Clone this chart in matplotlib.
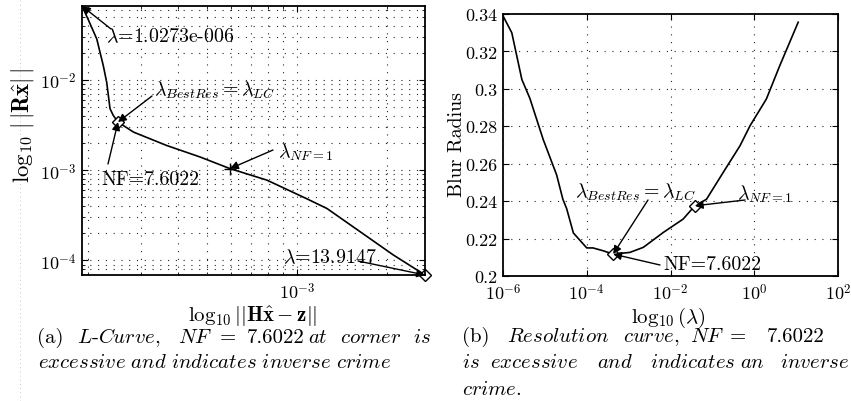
import numpy as np
import matplotlib
matplotlib.use("Agg")
import matplotlib.pyplot as plt
from matplotlib.ticker import FuncFormatter, LogLocator, NullFormatter

plt.rcParams['font.family'] = ['cmr10', 'DejaVu Serif']
plt.rcParams['mathtext.fontset'] = 'cm'
plt.rcParams['axes.formatter.use_mathtext'] = True
plt.rcParams['axes.unicode_minus'] = False

# ---- (a) L-curve data: residual norm vs solution norm ----
res_norm = [1.91e-4, 2.00e-4, 2.14e-4, 2.25e-4, 2.31e-4, 2.37e-4, 2.43e-4, 2.52e-4,
            2.84e-4, 3.66e-4, 4.74e-4, 5.97e-4, 7.93e-4, 1.076e-3, 1.26e-3,
            1.63e-3, 2.10e-3, 2.68e-3]
sol_norm = [6.58e-2, 4.72e-2, 2.84e-2, 1.44e-2, 9.4e-3, 4.8e-3, 4.04e-3, 3.41e-3,
            2.64e-3, 1.88e-3, 1.40e-3, 1.04e-3, 7.76e-4, 4.84e-4, 3.76e-4,
            2.07e-4, 1.15e-4, 6.9e-5]
lc_point = (2.52e-4, 3.41e-3)
nf1_point = (5.97e-4, 1.04e-3)
end_point = (2.68e-3, 6.9e-5)
start_point = (1.91e-4, 6.58e-2)

# ---- (b) resolution curve: lambda vs blur radius ----
lam = [1e-6, 1.62e-6, 2.82e-6, 4.37e-6, 9.1e-6, 1.91e-5, 2.69e-5, 3.31e-5, 4.79e-5,
       1.0e-4, 1.41e-4, 2.45e-4, 4.27e-4, 1.07e-3, 2.24e-3, 6.76e-3, 2.0e-2,
       3.8e-2, 7.24e-2, 0.182, 0.457, 0.794, 1.95, 4.07, 11.2]
blur = [0.339, 0.330, 0.305, 0.295, 0.273, 0.254, 0.241, 0.236, 0.223,
        0.215, 0.215, 0.2135, 0.2117, 0.2126, 0.2153, 0.2233, 0.2304,
        0.2375, 0.241, 0.2554, 0.2696, 0.2803, 0.2946, 0.3124, 0.3356]
lc_lam = (4.27e-4, 0.2117)
nf1_lam = (3.8e-2, 0.2375)
yticks_b = [0.2, 0.22, 0.24, 0.26, 0.28, 0.3, 0.32, 0.34]
xticks_b = [1e-6, 1e-4, 1e-2, 1e0, 1e2]

W, H = 851, 402
fig = plt.figure(figsize=(W / 100, H / 100), dpi=100)


def fx(x):
    return x / W


def fy(y):
    return 1 - y / H


pow_fmt = FuncFormatter(lambda v, p: r'$10^{%d}$' % round(np.log10(v)))
grid_ls = (0, (1, 6))
arrow = dict(arrowstyle='-|>', color='k', lw=1.0, mutation_scale=12,
             shrinkA=0, shrinkB=0)
fs_tick = 13
fs_note = 14.3
fs_label = 15
fs_cap = 15

# ---------------- left panel ----------------
ax1 = fig.add_axes([fx(82), fy(276), fx(425) - fx(82), fy(7) - fy(276)])
ax1.loglog(res_norm, sol_norm, color='k', lw=1.2)
ax1.plot(*lc_point, marker='D', ms=6.5, mfc='white', mec='k', mew=1.0)
ax1.plot(*end_point, marker='D', ms=6.5, mfc='white', mec='k', mew=1.0, clip_on=False)
ax1.plot(*nf1_point, marker='+', ms=9, color='k', mew=1.0)
ax1.set_xlim(min(res_norm), max(res_norm))
ax1.set_ylim(min(sol_norm), max(sol_norm))
ax1.xaxis.set_major_formatter(pow_fmt)
ax1.yaxis.set_major_formatter(pow_fmt)
ax1.xaxis.set_minor_formatter(NullFormatter())
ax1.yaxis.set_minor_formatter(NullFormatter())
ax1.yaxis.set_minor_locator(LogLocator(subs=np.arange(2, 10), numticks=20))
ax1.xaxis.set_minor_locator(LogLocator(subs=np.arange(2, 10), numticks=20))
ax1.grid(True, which='both', color='0.15', ls=grid_ls, lw=0.8)

# ---------------- right panel ----------------
ax2 = fig.add_axes([fx(503), fy(277), fx(838) - fx(503), fy(15) - fy(277)])
ax2.semilogx(lam, blur, color='k', lw=1.2)
ax2.plot(*lc_lam, marker='D', ms=6.5, mfc='white', mec='k', mew=1.0)
ax2.plot(*nf1_lam, marker='D', ms=6.5, mfc='white', mec='k', mew=1.0)
ax2.set_xlim(xticks_b[0], xticks_b[-1])
ax2.set_ylim(yticks_b[0], yticks_b[-1])
ax2.set_xticks(xticks_b)
ax2.set_yticks(yticks_b)
ax2.xaxis.set_major_formatter(pow_fmt)
ax2.xaxis.set_minor_formatter(NullFormatter())
ax2.yaxis.set_major_formatter(FuncFormatter(lambda v, p: '%g' % v))
ax2.tick_params(axis='x', which='minor', length=0)
ax2.grid(True, which='major', color='0.15', ls=grid_ls, lw=0.8)

for ax in (ax1, ax2):
    ax.tick_params(which='both', direction='in', top=True, right=True,
                   labelsize=fs_tick, pad=4)
    ax.tick_params(which='major', length=4)
    ax.tick_params(which='minor', length=2)
    for s in ax.spines.values():
        s.set_linewidth(1.3)
    ax.set_axisbelow(False)

# axis labels
fig.text(fx(22), fy(125), r'$\log_{10}\,|\,|\mathbf{R}\hat{\mathbf{x}}|\,|$', rotation=90,
         ha='center', va='center', fontsize=16.5)
fig.text(fx(253), fy(317), r'$\log_{10}||\mathbf{H}\hat{\mathbf{x}}-\mathbf{z}||$',
         ha='center', va='center', fontsize=fs_label)
fig.text(fx(457), fy(145), 'Blur Radius', rotation=90, ha='center', va='center',
         fontsize=fs_note)
fig.text(fx(668), fy(318), r'$\log_{10}(\lambda)$', ha='center', va='center',
         fontsize=fs_label)

# annotations (text and arrows)
def note(ax, txt, tx, ty, tail, xy):
    fig.text(fx(tx), fy(ty), txt, ha='left', va='center', fontsize=fs_note)
    ax.annotate('', xy=xy, xycoords='data', xytext=(fx(tail[0]), fy(tail[1])),
                textcoords='figure fraction', arrowprops=arrow, annotation_clip=False)

note(ax1, r'$\lambda$=1.0273e-006', 106, 37, (111, 30), start_point)
note(ax1, r'$\lambda_{BestRes} = \lambda_{LC}$', 154, 90, (152, 97), lc_point)
note(ax1, 'NF=7.6022', 101, 180, (108, 165), lc_point)
note(ax1, r'$\lambda_{NF=1}$', 278, 152, (273, 151), nf1_point)
note(ax1, r'$\lambda$=13.9147', 283, 258, (358, 262), end_point)

note(ax2, r'$\lambda_{BestRes} = \lambda_{LC}$', 575, 192, (648, 201), lc_lam)
note(ax2, r'$\lambda_{NF=1}$', 737, 194, (745, 201), nf1_lam)
note(ax2, 'NF=7.6022', 663, 265, (660, 266), lc_lam)

# captions
def it(s):
    return r'$\mathit{%s}$' % s.replace(' ', r'\ ')

cap_a1 = [('(a)', 37), (it('L') + '-' + it('Curve') + ',', 77), (it('NF'), 178),
          ('=', 220), ('7.6022', 247), (it('at'), 308), (it('corner'), 340), (it('is'), 413)]
cap_b1 = [('(b)', 462), (it('Resolution'), 507), (it('curve') + ',', 623), (it('NF'), 690),
          ('=', 730), ('7.6022', 767)]
cap_b2 = [(it('is'), 462), (it('excessive'), 490), (it('and'), 597), (it('indicates'), 650),
          (it('an'), 740), (it('inverse'), 780)]
for words, yb in ((cap_a1, 343), (cap_b1, 342), (cap_b2, 368)):
    for w, x in words:
        fig.text(fx(x), fy(yb), w, ha='left', va='baseline', fontsize=fs_cap)
fig.text(fx(38), fy(368), it('excessive and indicates inverse crime'),
         ha='left', va='baseline', fontsize=fs_cap)
fig.text(fx(462), fy(395), it('crime') + '.', ha='left', va='baseline', fontsize=fs_cap)

# faint page rule at left
fig.add_artist(plt.Line2D([fx(20), fx(20)], [0, 1], color='0.7', lw=0.6,
                          ls=(0, (1, 4)), transform=fig.transFigure))

fig.savefig('out.png', dpi=100)
